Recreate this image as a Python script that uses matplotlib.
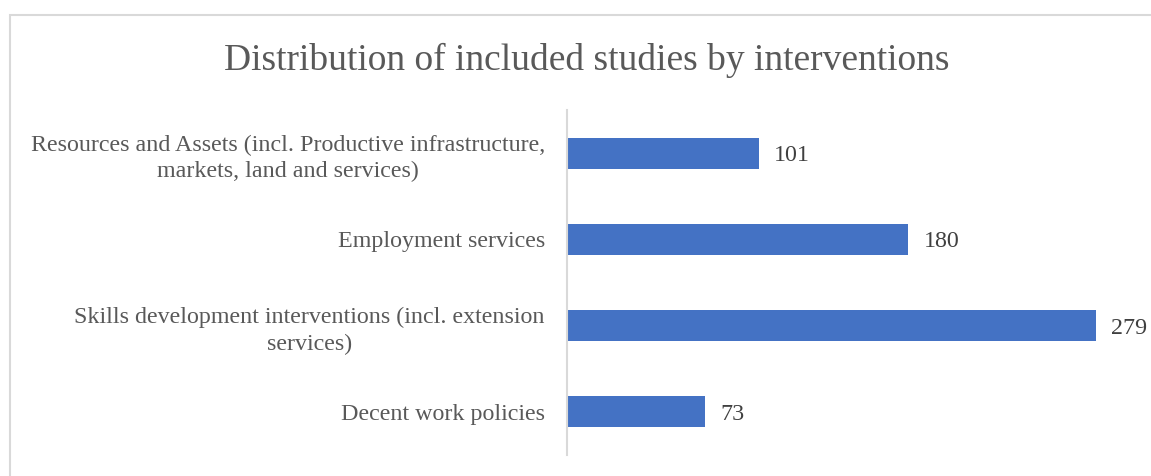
import matplotlib.pyplot as plt
from matplotlib.patches import Rectangle

categories = [
    "Resources and Assets (incl. Productive infrastructure,\nmarkets, land and services)",
    "Employment services",
    "Skills development interventions (incl. extension\nservices)",
    "Decent work policies",
]
studies = [101, 180, 279, 73]

plt.rcParams['font.family'] = ['Liberation Serif', 'DejaVu Serif']

fig = plt.figure(figsize=(11.51, 4.76), dpi=100)
ax = fig.add_axes([567 / 1151, 21 / 476, 569 / 1151, 345 / 476])

pos = list(range(len(categories)))
bars = ax.barh(pos, studies, height=0.36, color='#4472C4')
ax.set_ylim(len(categories) - 0.5, -0.5)
ax.set_xlim(0, 300)

ax.set_yticks(pos)
ax.set_yticklabels(categories, fontsize=17.3, color='#595959',
                   multialignment='center', linespacing=1.35)
ax.tick_params(axis='y', length=0, pad=16)
ax.set_xticks([])

for side in ['top', 'right', 'bottom']:
    ax.spines[side].set_visible(False)
ax.spines['left'].set_color('#D9D9D9')
ax.spines['left'].set_linewidth(1.5)

txts = ax.bar_label(bars, labels=[str(v) for v in studies], padding=11,
                    fontsize=17.3, color='#404040')
for t in txts:
    t.set_va('center_baseline')

fig.text(0.51, 0.874, "Distribution of included studies by interventions",
         ha='center', va='center', fontsize=27, color='#595959')

# light frame around the chart area
fig.add_artist(Rectangle((10 / 1151, -0.1), 1.2, (476 - 15) / 476 + 0.1,
                         transform=fig.transFigure, fill=False,
                         edgecolor='#D9D9D9', linewidth=1.5))

fig.savefig('out.png', dpi=100)
